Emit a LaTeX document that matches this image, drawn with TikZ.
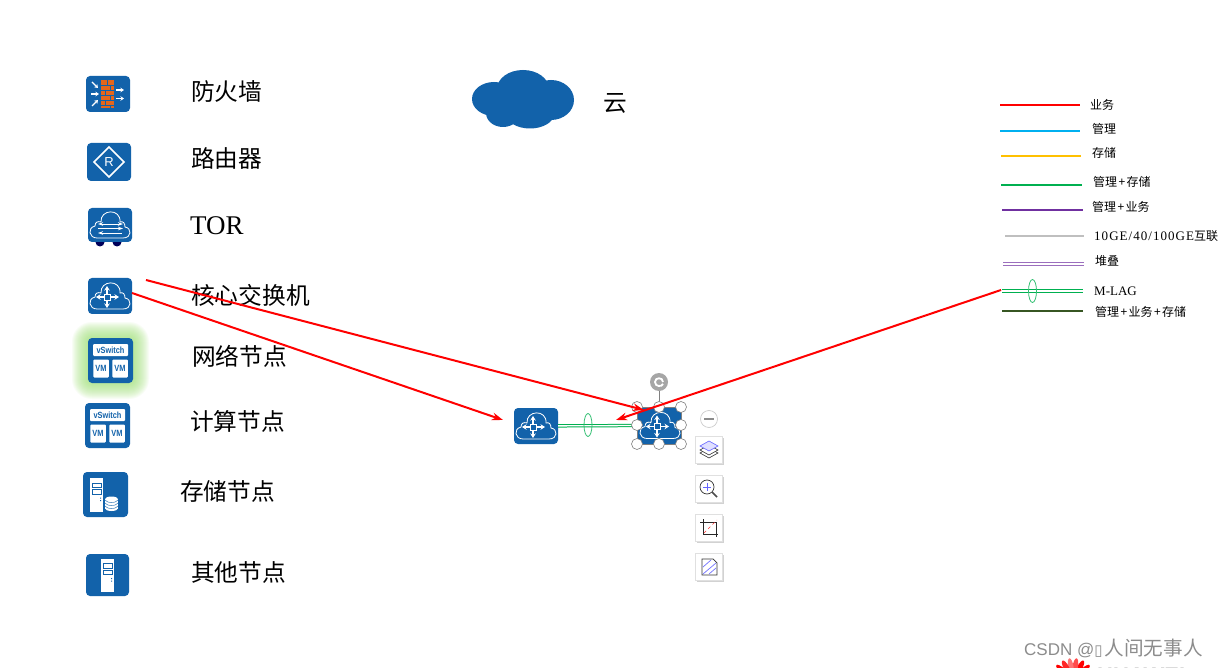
\documentclass[tikz,border=0pt]{standalone}
\usepackage{fontspec}
\setmainfont{Liberation Serif}
\setsansfont{Liberation Sans}
\newfontfamily\cjkfont{Noto Sans CJK SC}
\newfontfamily\boxfont{DejaVu Sans}
\newfontfamily\widefont[LetterSpace=8]{Liberation Serif}
\usetikzlibrary{arrows.meta, positioning, shadows, shapes.geometric}

\definecolor{iconblue}{HTML}{1262AA}
\definecolor{brickorange}{HTML}{E4661C}
\definecolor{lineblue}{HTML}{00B0F0}
\definecolor{lineyellow}{HTML}{FFC000}
\definecolor{linegreen}{HTML}{00B050}
\definecolor{linepurple}{HTML}{7030A0}
\definecolor{linegray}{HTML}{BFBFBF}
\definecolor{linedark}{HTML}{375623}
\definecolor{glowgreen}{HTML}{A3E47A}

\newcommand{\vmword}[1]{\scalebox{0.82}[1]{#1}}
\newcommand{\plusgap}{\kern1.4pt+\kern1.4pt}

\tikzset{
  cloudline/.pic={
    \draw[white, line width=0.8pt] (-13,13) .. controls (-21,13) and (-23,3) .. (-15,1)
      .. controls (-15,-3) and (-12,-4) .. (-9,-3)
      .. controls (-10,-16) and (11,-17) .. (10,-3)
      .. controls (13,-4) and (15,-2) .. (15,2)
      .. controls (22,3) and (22,13) .. (13,13) -- cycle;
  },
  corecloud/.pic={
    \pic {cloudline};
    \draw[white, line width=1.1pt, -{Stealth[length=4.5pt,width=5.5pt]}] (-6,1) -- (-14,1);
    \draw[white, line width=1.1pt, -{Stealth[length=4.5pt,width=5.5pt]}] (0,1) -- (9,1);
    \draw[white, line width=1.1pt, -{Stealth[length=4.5pt,width=5.5pt]}] (-3,-2) -- (-3,-10);
    \draw[white, line width=1.1pt, -{Stealth[length=4.5pt,width=5.5pt]}] (-3,4) -- (-3,12);
    \draw[white, line width=0.8pt] (-6,-2) rectangle (0,4);
  },
  torcloud/.pic={
    \pic {cloudline};
    \draw[white, line width=0.8pt, {Stealth[length=5pt,width=3.5pt]}-{Stealth[length=5pt,width=3.5pt]}] (-12,-1) -- (13,-1);
    \draw[white, line width=0.8pt, -{Stealth[length=5pt,width=3.5pt]}] (-12,3.5) -- (13,3.5);
    \draw[white, line width=0.8pt, {Stealth[length=5pt,width=3.5pt]}-] (-12,8) -- (12,8);
  },
  fwglyph/.pic={
    \fill[brickorange] (-6.7,-14) rectangle (6.3,14.5);
    \draw[iconblue, line width=0.3pt] (-6.7,-9) -- (6.3,-9) (-6.7,-4) -- (6.3,-4) (-6.7,1) -- (6.3,1)
      (-6.7,6) -- (6.3,6) (-6.7,11) -- (6.3,11)
      (-1,-14) -- (-1,-9) (2,-9) -- (2,-4) (-3,-4) -- (-3,1) (2,1) -- (2,6) (-3,6) -- (-3,11) (2,11) -- (2,14.5);
    \draw[white, line width=1.3pt, -{Stealth[length=3.5pt,width=4.5pt]}] (-16,-12) -- (-10,-6);
    \draw[white, line width=1.3pt, -{Stealth[length=3.5pt,width=4.5pt]}] (-17,0) -- (-9,0);
    \draw[white, line width=1.3pt, -{Stealth[length=3.5pt,width=4.5pt]}] (-16,12) -- (-10,6);
    \draw[white, line width=1.3pt, -{Stealth[length=3.5pt,width=4.5pt]}] (8,-4) -- (16,-4);
    \draw[white, line width=1.3pt, -{Stealth[length=3.5pt,width=4.5pt]}] (8,4.5) -- (16,4.5);
  },
  routerglyph/.pic={
    \draw[white, line width=1.5pt] (0,-15) -- (15,0) -- (0,15) -- (-15,0) -- cycle;
    \node[white, font=\sffamily\fontsize{13}{13}\selectfont, inner sep=0pt] (rletter) at (0,0) {R};
  },
  vmglyph/.pic={
    \node[vmbox, minimum width=35pt, minimum height=12pt] (vsw) at (0,-10.5) {\vmword{vSwitch}};
    \node[vmbox, minimum width=15.5pt, minimum height=18pt] (vma) at (-9.5,8) {\vmword{VM}};
    \node[vmbox, minimum width=15.5pt, minimum height=18pt] (vmb) at (9.5,8) {\vmword{VM}};
  },
  serverglyph/.pic={
    \fill[white] (-6.5,-16.5) rectangle (6.5,17);
    \draw[iconblue, line width=0.9pt] (-4.5,-11.5) rectangle (4.5,-7);
    \draw[iconblue, line width=0.9pt] (-4.5,-5) rectangle (4.5,-0.5);
    \fill[iconblue] (3.5,3) rectangle (4.7,4.2) (3.5,5.5) rectangle (4.7,6.7);
  },
  diskglyph/.pic={
    \fill[white] (-6.5,-4.5) rectangle (6.5,5);
    \fill[white] (0,-4.5) ellipse [x radius=6.5, y radius=2.5];
    \fill[white] (0,5) ellipse [x radius=6.5, y radius=2.5];
    \draw[iconblue, line width=0.4pt] (-6.5,-3.5) .. controls (-4,0) and (4,0) .. (6.5,-3.5);
    \draw[iconblue, line width=0.4pt] (-6.5,-0.5) .. controls (-4,3) and (4,3) .. (6.5,-0.5);
    \draw[iconblue, line width=0.4pt] (-6.5,2.5) .. controls (-4,6) and (4,6) .. (6.5,2.5);
  },
  iconbox/.style={fill=iconblue, rounded corners=4pt, inner sep=0pt},
  vmbox/.style={fill=white, rounded corners=1pt, inner sep=0pt, text=iconblue, font=\sffamily\bfseries\fontsize{9}{9}\selectfont},
  bigzh/.style={inner sep=0pt, anchor=west, font=\cjkfont\fontsize{23.7}{26}\selectfont},
  smallzh/.style={inner sep=0pt, anchor=west, font=\cjkfont\fontsize{12}{13}\selectfont},
  smallen/.style={inner sep=0pt, anchor=west, font=\fontsize{13}{14}\selectfont},
  keyline/.style={line width=1.5pt},
  twinline/.style={line width=1pt, double distance=1.3pt, draw=#1, double=white},
  lagring/.style={draw=linegreen!80!white, line width=0.8pt, ellipse, inner sep=0pt, minimum width=8pt, minimum height=23pt},
  handle/.style={circle, draw=gray, fill=white, line width=0.6pt, inner sep=0pt, minimum size=11pt},
  toolbtn/.style={fill=white, draw=black!12, line width=0.5pt, minimum size=27pt, inner sep=0pt, drop shadow={shadow xshift=1pt, shadow yshift=-1.5pt, opacity=0.35}},
  pointer/.style={red, line width=2pt, -{Stealth[length=11pt,width=7.5pt]}}
}

\begin{document}
\begin{tikzpicture}[x=1pt, y=-1pt]
  \path[use as bounding box, fill=white] (0,0) rectangle (1218,668);

  % left column
  \node[iconbox, minimum width=44pt, minimum height=36pt] (fw) at (108,94) {};
  \pic at (fw) {fwglyph};
  \node[bigzh] (fwtext) at (191,91) {防火墙};

  \node[iconbox, minimum width=44pt, minimum height=38pt] (router) at (109,162) {};
  \pic at (router) {routerglyph};
  \node[bigzh] (routertext) at (191,158) {路由器};

  \fill[black!30!blue!50!black] (100,242) circle [radius=4.5] (117,242) circle [radius=4.5];
  \node[iconbox, minimum width=44pt, minimum height=34pt] (tor) at (110,225) {};
  \pic at (tor) {torcloud};
  \node[inner sep=0pt, anchor=west, font=\fontsize{27}{30}\selectfont] (tortext) at (190,226) {TOR};

  \node[iconbox, minimum width=44pt, minimum height=36pt] (core) at (110,296) {};
  \pic at (core) {corecloud};
  \node[bigzh] (coretext) at (191,295) {核心交换机};

  \foreach \g in {16,15,...,1}
    \fill[glowgreen, fill opacity=0.07, rounded corners={4pt+\g*1pt}] (88-\g,338-\g) rectangle (133+\g,383+\g);
  \node[iconbox, minimum width=45pt, minimum height=45pt] (netnode) at (110.5,360.5) {};
  \pic at (netnode) {vmglyph};
  \node[bigzh] (nettext) at (192,356) {网络节点};

  \node[iconbox, minimum width=45pt, minimum height=45pt] (calcnode) at (107.5,425.5) {};
  \pic at (calcnode) {vmglyph};
  \node[bigzh] (calctext) at (190,421) {计算节点};

  \node[iconbox, minimum width=45pt, minimum height=45pt] (storenode) at (105.5,494.5) {};
  \pic at ([xshift=-9pt]storenode.center) {serverglyph};
  \pic at ([xshift=6pt,yshift=-9pt]storenode.center) {diskglyph};
  \node[bigzh] (storetext) at (180,491) {存储节点};

  \node[iconbox, minimum width=43pt, minimum height=42pt] (othernode) at (107.5,575) {};
  \pic at (othernode) {serverglyph};
  \node[bigzh] (othertext) at (191,572) {其他节点};

  % big cloud
  \fill[iconblue] (494,99) ellipse [x radius=22, y radius=17]
    (523,89) ellipse [x radius=26, y radius=19]
    (551,100) ellipse [x radius=23, y radius=20]
    (503,113) ellipse [x radius=17, y radius=14]
    (530,114) ellipse [x radius=24, y radius=14.5];
  \node[bigzh] (cloudtext) at (603,103) {云};

  % legend
  \coordinate (bizA) at (1000,105);  \coordinate (bizB) at (1080,105);
  \coordinate (mgtA) at (1000,131);  \coordinate (mgtB) at (1080,131);
  \coordinate (stoA) at (1001,156);  \coordinate (stoB) at (1081,156);
  \coordinate (msA) at (1001,185);   \coordinate (msB) at (1082,185);
  \coordinate (mbA) at (1002,210);   \coordinate (mbB) at (1083,210);
  \coordinate (geA) at (1005,236);   \coordinate (geB) at (1084,236);
  \coordinate (stkA) at (1003,264);  \coordinate (stkB) at (1084,264);
  \coordinate (lagA) at (1002,291);  \coordinate (lagB) at (1083,291);
  \coordinate (allA) at (1002,311);  \coordinate (allB) at (1083,311);
  \draw[keyline, red] (bizA) -- (bizB);
  \draw[keyline, lineblue] (mgtA) -- (mgtB);
  \draw[keyline, lineyellow] (stoA) -- (stoB);
  \draw[keyline, linegreen] (msA) -- (msB);
  \draw[keyline, linepurple] (mbA) -- (mbB);
  \draw[keyline, linegray] (geA) -- (geB);
  \draw[twinline=linepurple!70] (stkA) -- (stkB);
  \draw[twinline=linegreen] (lagA) -- (lagB);
  \draw[keyline, linedark] (allA) -- (allB);
  \node[lagring] (lagkey) at (1032.5,291) {};
  \node[smallzh] (biztext) at (1090,105) {业务};
  \node[smallzh] (mgttext) at (1092,129) {管理};
  \node[smallzh] (stotext) at (1092,153) {存储};
  \node[smallzh] (mstext) at (1093,182) {管理\plusgap 存储};
  \node[smallzh] (mbtext) at (1092,207) {管理\plusgap 业务};
  \node[smallen] (getext) at (1094,236) {\widefont 10GE/40/100GE{\cjkfont\fontsize{12}{13}\selectfont 互联}};
  \node[smallzh] (stktext) at (1095,261) {堆叠};
  \node[smallen] (lagtext) at (1094,291) {M-LAG};
  \node[smallzh] (alltext) at (1095,312) {管理\plusgap 业务\plusgap 存储};

  % middle pair
  \node[iconbox, minimum width=44pt, minimum height=36pt] (coreL) at (536,426) {};
  \pic at (coreL) {corecloud};
  \node[iconbox, rounded corners=0pt, minimum width=44pt, minimum height=37pt] (coreR) at (660,425.5) {};
  \pic at (coreR) {corecloud};
  \draw[twinline=linegreen] (coreL) -- (coreR.west);
  \node[lagring] (lagmid) at (588,425) {};

  % selection frame
  \node[handle, minimum size=18pt, draw=none, fill=black!35] (turn) at (659,382) {};
  \draw[white, line width=1.8pt] (663,382) .. controls (663,377) and (655,377) .. (655,382) .. controls (655,387) and (662,387) .. (663,384);
  \draw[gray, line width=0.6pt] (turn) -- (659,407);
  \draw[gray, line width=0.6pt] (637,407) rectangle (681,444);
  \node[handle] (hA) at (637,407) {};
  \node[handle] (hB) at (659,407) {};
  \node[handle] (hC) at (681,407) {};
  \node[handle] (hD) at (637,425) {};
  \node[handle] (hE) at (681,425) {};
  \node[handle] (hF) at (637,444) {};
  \node[handle] (hG) at (659,444) {};
  \node[handle] (hH) at (681,444) {};

  % toolbar
  \node[circle, draw=black!20, fill=white, line width=0.7pt, minimum size=17pt, inner sep=0pt] (minusbtn) at (709,419) {};
  \draw[black!45, line width=1.6pt] (704,419) -- (714,419);
  \node[toolbtn] (layerbtn) at (709,449.5) {};
  \draw[black!80, line width=0.6pt] (709,448) -- (718,453) -- (709,458) -- (700,453) -- cycle;
  \draw[black!80, fill=white, line width=0.6pt] (709,445) -- (718,450) -- (709,455) -- (700,450) -- cycle;
  \draw[blue!60!white, fill=blue!12, line width=0.6pt] (709,441) -- (718,446) -- (709,451) -- (700,446) -- cycle;
  \node[toolbtn] (zoombtn) at (709,488.5) {};
  \draw[black!80, line width=0.7pt] (707,487) circle [radius=7];
  \draw[black!70, line width=1.5pt] (712,492) -- (717,497);
  \draw[blue!60!white, line width=0.7pt] (703,487) -- (711,487) (707,483) -- (707,491);
  \node[toolbtn] (cropbtn) at (709,527.5) {};
  \draw[black!85, line width=0.7pt] (700,522) -- (716,522) -- (716,537) (703,519) -- (703,534) -- (718,534);
  \draw[red!80, dashed, line width=0.5pt] (704,533) -- (717,520);
  \node[toolbtn] (slimbtn) at (709,566.5) {};
  \draw[black!80, line width=0.7pt] (702,559) -- (713,559) -- (717,563) -- (717,575) -- (702,575) -- cycle;
  \draw[blue!55!white, line width=0.7pt] (703,567) -- (711,560) (703,574) -- (716,563) (709,574) -- (716,568);

  % red pointers
  \coordinate (tailA) at (146,280);
  \coordinate (tipA) at (644,410);
  \coordinate (tailB) at (132,293);
  \coordinate (tipB) at (503,420);
  \coordinate (tailC) at (1001,290);
  \coordinate (tipC) at (616,420);
  \draw[pointer] (tailA) -- (tipA);
  \draw[pointer] (tailB) -- (tipB);
  \draw[pointer] (tailC) -- (tipC);

  % bottom corner
  \begin{scope}
    \clip (1040,630) rectangle (1218,668);
    \coordinate (petalbase) at (1073,681);
    \foreach \a/\c in {-46/100,-27/100,-9/70,9/55,27/85,46/100}
      \fill[red!\c!white, rotate around={\a:(petalbase)}] (1073,667) ellipse [x radius=2.8, y radius=9];
    \node[inner sep=0pt, anchor=north west, font=\sffamily\bfseries\fontsize{22}{22}\selectfont] (brandtext) at (1097,668) {HUAWEI};
  \end{scope}
  \node[inner sep=0pt, anchor=west, text=black!45, font=\sffamily\fontsize{17}{22}\selectfont] (marktext) at (1024,648) {CSDN @{\boxfont\fontsize{15}{16}\selectfont ▯}\kern2pt{\cjkfont\fontsize{19.6}{22}\selectfont 人间无事人}};
\end{tikzpicture}
\end{document}
